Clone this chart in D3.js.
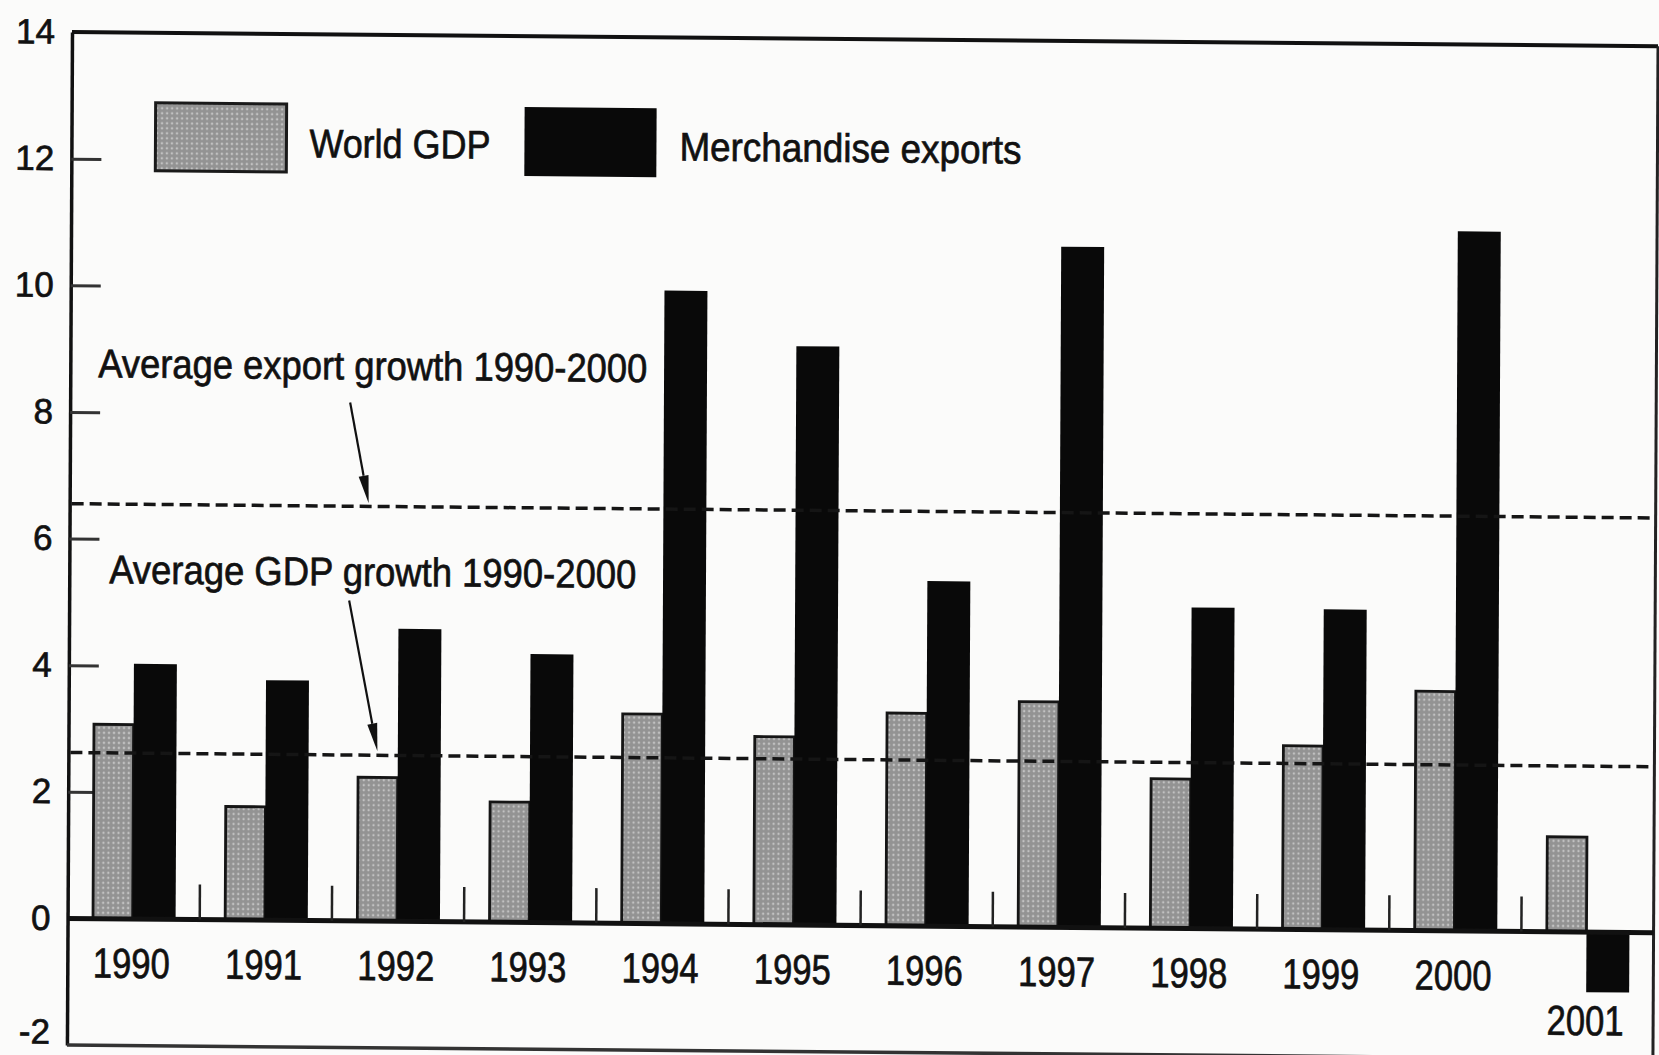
<!DOCTYPE html>
<html>
<head>
<meta charset="utf-8">
<script src="https://cdn.jsdelivr.net/npm/d3@7"></script>
<style>
    html, body { margin: 0; padding: 0; background: #fbfbfa; }
    svg text { font-family: "Liberation Sans", Arial, Helvetica, sans-serif; fill: #111; stroke: #111; stroke-width: 0.7px; }
</style>
</head>
<body>
<svg id="chart" width="1659" height="1055"></svg>
<script>
// values (annual % growth)
const years = ["1990", "1991", "1992", "1993", "1994", "1995", "1996", "1997", "1998", "1999", "2000", "2001"];
const worldGdp = [3.07, 1.79, 2.27, 1.9, 3.31, 2.97, 3.36, 3.56, 2.36, 2.9, 3.78, 1.5];
const merchExports = [4.03, 3.79, 4.62, 4.24, 10.0, 9.14, 5.45, 10.75, 5.07, 5.06, 11.05, -0.95];
const yTicks = [-2, 0, 2, 4, 6, 8, 10, 12, 14];
const avgExportGrowth = 6.55;
const avgGdpGrowth = 2.62;
const seriesNames = ["World GDP", "Merchandise exports"];
const avgLabels = ["Average export growth 1990-2000", "Average GDP growth 1990-2000"];

const width = 1659, height = 1055;
const margin = {left: 72, right: 1, top: 32, bottom: 10};

const svg = d3.select("#chart");

// stipple fill for the GDP bars
const defs = svg.append("defs");
const pat = defs.append("pattern")
    .attr("id", "stipple")
    .attr("patternUnits", "userSpaceOnUse")
    .attr("width", 5)
    .attr("height", 5);
pat.append("rect").attr("width", 5).attr("height", 5).attr("fill", "#939393");
pat.append("circle").attr("cx", 2.5).attr("cy", 2.5).attr("r", 1.2).attr("fill", "#c2c2c2");

// the scan is slightly skewed, mimic it on the whole drawing
const g = svg.append("g")
    .attr("transform", "matrix(1,0.009,-0.005,1,0.16,-0.648)");

const x = d3.scaleBand()
    .domain(years)
    .range([margin.left, width - margin.right])
    .padding(0);

const y = d3.scaleLinear()
    .domain([-2, 14])
    .range([height - margin.bottom, margin.top]);

const step = x.step();
const gdpW = step * 0.30, expW = step * 0.325;
const center = d => x(d) + step / 2;

// y axis with inward ticks
const yAxis = d3.axisLeft(y)
    .tickValues(yTicks)
    .tickSizeInner(-30)
    .tickSizeOuter(0)
    .tickPadding(17)
    .tickFormat(d => d < 0 ? "-" + Math.abs(d) : d);

const ya = g.append("g")
    .attr("class", "axis y")
    .attr("transform", `translate(${margin.left},0)`)
    .call(yAxis);
ya.select(".domain").attr("stroke", "#111").attr("stroke-width", 3.5);
ya.selectAll(".tick line").attr("stroke", "#333").attr("stroke-width", 3)
    .attr("display", d => (d <= 0 || d >= 14) ? "none" : null);
ya.selectAll(".tick text").attr("font-size", 35).attr("fill", "#111")
    .attr("dy", d => d === -2 ? "-0.05em" : "0.32em");

// frame: top, right, bottom
g.append("line")
    .attr("x1", margin.left).attr("x2", width - margin.right)
    .attr("y1", y(14)).attr("y2", y(14))
    .attr("stroke", "#111").attr("stroke-width", 4);
g.append("line")
    .attr("x1", width - margin.right).attr("x2", width - margin.right)
    .attr("y1", y(14)).attr("y2", y(-2))
    .attr("stroke", "#222").attr("stroke-width", 3);
g.append("line")
    .attr("x1", margin.left).attr("x2", width - margin.right)
    .attr("y1", y(-2)).attr("y2", y(-2))
    .attr("stroke", "#333").attr("stroke-width", 3.5);

// bars
g.selectAll(".gdp").data(years).enter()
    .append("rect")
    .attr("class", "gdp")
    .attr("x", d => center(d) - gdpW - 1)
    .attr("width", gdpW)
    .attr("y", (d, i) => y(Math.max(0, worldGdp[i])))
    .attr("height", (d, i) => Math.abs(y(worldGdp[i]) - y(0)))
    .attr("fill", "url(#stipple)")
    .attr("stroke", "#151515")
    .attr("stroke-width", 2.8);

g.selectAll(".exp").data(years).enter()
    .append("rect")
    .attr("class", "exp")
    .attr("x", d => center(d) - 1)
    .attr("width", expW)
    .attr("y", (d, i) => y(Math.max(0, merchExports[i])))
    .attr("height", (d, i) => Math.abs(y(merchExports[i]) - y(0)))
    .attr("fill", "#090909");

// zero line
g.append("line")
    .attr("x1", margin.left).attr("x2", width - margin.right)
    .attr("y1", y(0)).attr("y2", y(0))
    .attr("stroke", "#111").attr("stroke-width", 5);

// small ticks between the year groups
g.selectAll(".sep").data(years.slice(1)).enter()
    .append("line")
    .attr("class", "sep")
    .attr("x1", d => x(d)).attr("x2", d => x(d))
    .attr("y1", y(0)).attr("y2", y(0) - 35)
    .attr("stroke", "#222").attr("stroke-width", 2.5);

// year labels, dropped under a negative bar
g.selectAll(".year").data(years).enter()
    .append("text")
    .attr("class", "year")
    .attr("x", d => center(d) - 2)
    .attr("y", (d, i) => merchExports[i] < 0 ? y(merchExports[i]) + 43 : y(0) + 59)
    .attr("text-anchor", "middle")
    .attr("font-size", 42)
    .attr("textLength", 77)
    .attr("lengthAdjust", "spacingAndGlyphs")
    .text(d => d);

// average lines
[avgExportGrowth, avgGdpGrowth].forEach(v => {
    g.append("line")
        .attr("x1", margin.left + 2).attr("x2", width - margin.right)
        .attr("y1", y(v)).attr("y2", y(v))
        .attr("stroke", "#151515")
        .attr("stroke-width", 3.5)
        .attr("stroke-dasharray", "12,6");
});

// annotations with arrows
function arrow(x1, y1, x2, y2) {
    const a = Math.atan2(y2 - y1, x2 - x1);
    const len = 28, hw = 5;
    const bx = x2 - len * Math.cos(a), by = y2 - len * Math.sin(a);
    g.append("line")
        .attr("x1", x1).attr("y1", y1).attr("x2", bx).attr("y2", by)
        .attr("stroke", "#111").attr("stroke-width", 2.2);
    const p = d3.path();
    p.moveTo(x2, y2);
    p.lineTo(bx + hw * Math.sin(a), by - hw * Math.cos(a));
    p.lineTo(bx - hw * Math.sin(a), by + hw * Math.cos(a));
    p.closePath();
    g.append("path").attr("d", p.toString()).attr("fill", "#111");
}

g.append("text")
    .attr("x", 100).attr("y", 377)
    .attr("font-size", 40)
    .attr("textLength", 549)
    .attr("lengthAdjust", "spacingAndGlyphs")
    .text(avgLabels[0]);
arrow(352, 400, 371, y(avgExportGrowth) - 3);

g.append("text")
    .attr("x", 112).attr("y", 583)
    .attr("font-size", 40)
    .attr("textLength", 527)
    .attr("lengthAdjust", "spacingAndGlyphs")
    .text(avgLabels[1]);
arrow(352, 598, 381, y(avgGdpGrowth) - 4);

// legend
const legend = g.append("g").attr("class", "legend");
legend.append("rect")
    .attr("x", 156).attr("y", 102).attr("width", 131).attr("height", 68)
    .attr("fill", "url(#stipple)").attr("stroke", "#1a1a1a").attr("stroke-width", 3);
legend.append("text")
    .attr("x", 310).attr("y", 155)
    .attr("font-size", 40)
    .attr("textLength", 181)
    .attr("lengthAdjust", "spacingAndGlyphs")
    .text(seriesNames[0]);
legend.append("rect")
    .attr("x", 525).attr("y", 103).attr("width", 132).attr("height", 69)
    .attr("fill", "#090909");
legend.append("text")
    .attr("x", 680).attr("y", 155)
    .attr("font-size", 40)
    .attr("textLength", 342)
    .attr("lengthAdjust", "spacingAndGlyphs")
    .text(seriesNames[1]);
</script>
</body>
</html>
